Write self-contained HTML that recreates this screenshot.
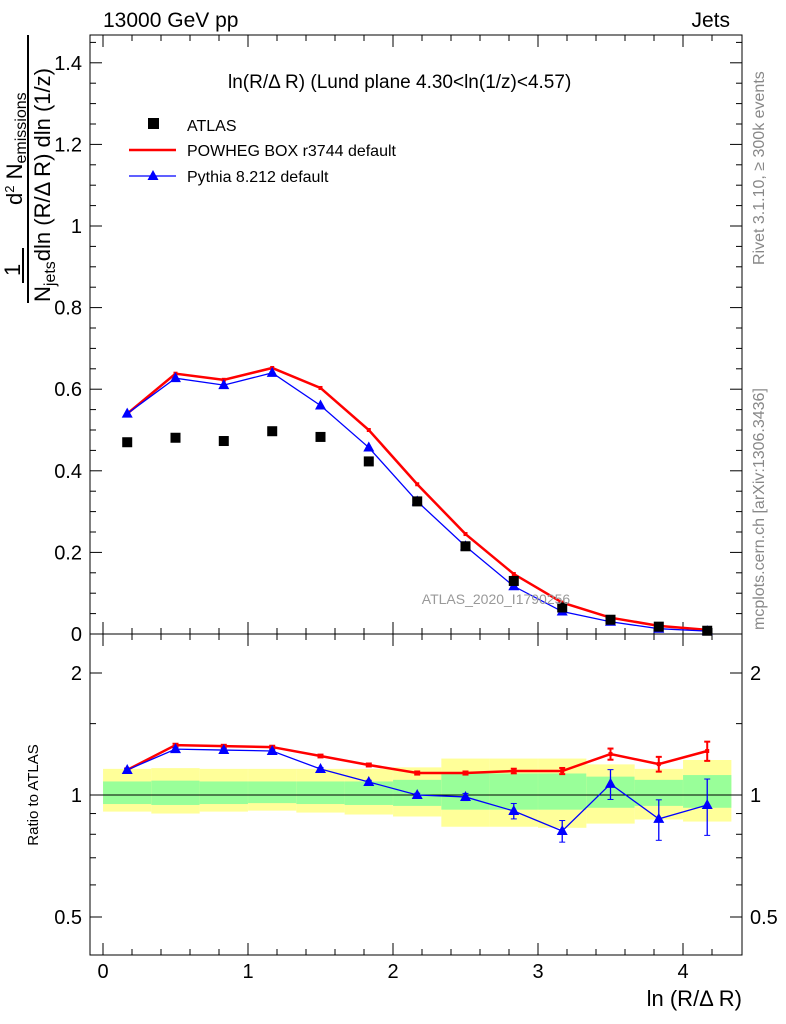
<!DOCTYPE html>
<html><head><meta charset="utf-8"><style>
body{margin:0;background:#fff}
svg{display:block;font-family:"Liberation Sans",Arial,sans-serif}
</style></head><body>
<svg width="786" height="1024" viewBox="0 0 786 1024">
<g id="g"></g>
</svg>
<script>
const binCenters=[0.167,0.5,0.833,1.167,1.5,1.833,2.167,2.5,2.833,3.167,3.5,3.833,4.167];
const atlasVals=[0.47,0.481,0.473,0.497,0.483,0.423,0.325,0.215,0.13,0.065,0.035,0.018,0.008];
const powhegVals=[0.54,0.638,0.623,0.652,0.603,0.5,0.367,0.245,0.147,0.077,0.04,0.02,0.01];
const pythiaVals=[0.54,0.627,0.61,0.64,0.56,0.457,0.325,0.215,0.117,0.055,0.03,0.013,0.007];
const powhegRatio=[1.153,1.328,1.32,1.313,1.248,1.186,1.133,1.133,1.146,1.146,1.262,1.192,1.284];
const powhegRatioErr=[0.01,0.01,0.01,0.01,0.01,0.01,0.01,0.01,0.015,0.02,0.04,0.05,0.07];
const pythiaRatio=[1.153,1.298,1.291,1.284,1.159,1.077,1.0,0.989,0.913,0.815,1.065,0.873,0.945];
const pythiaRatioErr=[0.01,0.01,0.01,0.01,0.01,0.01,0.01,0.02,0.04,0.05,0.09,0.1,0.15];
const yellowLo=[0.91,0.9,0.91,0.915,0.905,0.895,0.885,0.835,0.835,0.83,0.85,0.87,0.86];
const yellowHi=[1.16,1.165,1.16,1.16,1.16,1.16,1.17,1.23,1.23,1.23,1.19,1.16,1.22];
const greenLo=[0.95,0.945,0.95,0.955,0.95,0.945,0.94,0.92,0.92,0.92,0.93,0.94,0.93];
const greenHi=[1.08,1.085,1.08,1.08,1.08,1.08,1.09,1.13,1.13,1.13,1.11,1.09,1.12];
const xTicks=[0,1,2,3,4];
const yTicks=[0,0.2,0.4,0.6,0.8,1,1.2,1.4];
const ratioTicks=[0.5,1,2];

const NS="http://www.w3.org/2000/svg";
const g=document.getElementById('g');
function el(t,a,txt){const e=document.createElementNS(NS,t);for(const k in a)e.setAttribute(k,a[k]);if(txt!==undefined)e.textContent=txt;g.appendChild(e);return e;}
const X0=90,X1=742,T=35,MB=634,RB=955;
const xs=v=>103+v*145;
const ys=v=>634-v*408;
const yr=v=>795-Math.log2(v)*122;
const bw=1/3;

for(let i=0;i<binCenters.length;i++){
  const a=xs(binCenters[i]-bw/2),b=xs(binCenters[i]+bw/2);
  let e=el('rect',{x:a,y:yr(yellowHi[i]),width:b-a,height:yr(yellowLo[i])-yr(yellowHi[i]),fill:'#ffff99'});
  
  e=el('rect',{x:a,y:yr(greenHi[i]),width:b-a,height:yr(greenLo[i])-yr(greenHi[i]),fill:'#99ff99'});
  
}
el('line',{x1:X0,x2:X1,y1:yr(1),y2:yr(1),stroke:'#000','stroke-width':1});

let f=el('rect',{x:X0,y:T,width:X1-X0,height:MB-T,fill:'none',stroke:'#000'});

f=el('rect',{x:X0,y:MB,width:X1-X0,height:RB-MB,fill:'none',stroke:'#000'});


for(let v=0;v<=4.4;v+=0.2){const x=xs(v);const major=Math.abs(v-Math.round(v))<1e-6;const L=major?12:6;
  el('line',{x1:x,x2:x,y1:MB,y2:MB-L,stroke:'#000'});el('line',{x1:x,x2:x,y1:T,y2:T+L,stroke:'#000'});
  el('line',{x1:x,x2:x,y1:RB,y2:RB-L,stroke:'#000'});el('line',{x1:x,x2:x,y1:MB,y2:MB+L,stroke:'#000'});}
xTicks.forEach(v=>{const t=el('text',{x:xs(v),y:978,'font-size':20,'text-anchor':'middle'},String(v));
  });
for(let v=0;v<=1.46;v+=0.05){const y=ys(v);const major=Math.abs(v*5-Math.round(v*5))<1e-6;const L=major?12:6;
  el('line',{x1:X0,x2:X0+L,y1:y,y2:y,stroke:'#000'});el('line',{x1:X1,x2:X1-L,y1:y,y2:y,stroke:'#000'});}
yTicks.forEach(v=>{const t=el('text',{x:82,y:ys(v)+7,'font-size':20,'text-anchor':'end'},String(v));
  });
[0.5,0.6,0.7,0.8,0.9,1,1.5,2].forEach(v=>{const y=yr(v);const L=[0.5,1,2].includes(v)?12:6;
  el('line',{x1:X0,x2:X0+L,y1:y,y2:y,stroke:'#000'});el('line',{x1:X1,x2:X1-L,y1:y,y2:y,stroke:'#000'});});
ratioTicks.forEach(v=>{let t=el('text',{x:82,y:yr(v)+7,'font-size':20,'text-anchor':'end'},String(v));
  
  t=el('text',{x:750,y:yr(v)+7,'font-size':20},String(v));
  });

function line(vals,sx,sy,col,w,name){const p=vals.map((v,i)=>sx(binCenters[i])+','+sy(v)).join(' ');
  const e=el('polyline',{points:p,fill:'none',stroke:col,'stroke-width':w});}
line(powhegVals,xs,ys,'#f00',2.5,'powheg-line');
powhegVals.forEach((v,i)=>{const e=el('rect',{x:xs(binCenters[i])-2,y:ys(v)-2,width:4,height:4,fill:'#f00'});});
line(pythiaVals,xs,ys,'#00f',1.3,'pythia-line');
function tri(x,y,name){const e=el('polygon',{points:`${x},${y-6} ${x-5.5},${y+4} ${x+5.5},${y+4}`,fill:'#00f'});}
pythiaVals.forEach((v,i)=>tri(xs(binCenters[i]),ys(v),'pythia-point'));
atlasVals.forEach((v,i)=>{const e=el('rect',{x:xs(binCenters[i])-5,y:ys(v)-5,width:10,height:10,fill:'#000'});});

line(powhegRatio,xs,yr,'#f00',2.5,'powheg-ratio-line');
powhegRatio.forEach((v,i)=>{const x=xs(binCenters[i]);
  let e=el('line',{x1:x,x2:x,y1:yr(v+powhegRatioErr[i]),y2:yr(v-powhegRatioErr[i]),stroke:'#f00','stroke-width':2});
  el('line',{x1:x-3,x2:x+3,y1:yr(v+powhegRatioErr[i]),y2:yr(v+powhegRatioErr[i]),stroke:'#f00','stroke-width':2});
  el('line',{x1:x-3,x2:x+3,y1:yr(v-powhegRatioErr[i]),y2:yr(v-powhegRatioErr[i]),stroke:'#f00','stroke-width':2});
  e=el('rect',{x:x-2,y:yr(v)-2,width:4,height:4,fill:'#f00'});});
line(pythiaRatio,xs,yr,'#00f',1.3,'pythia-ratio-line');
pythiaRatio.forEach((v,i)=>{const x=xs(binCenters[i]);
  let e=el('line',{x1:x,x2:x,y1:yr(v+pythiaRatioErr[i]),y2:yr(v-pythiaRatioErr[i]),stroke:'#00f','stroke-width':1.3});
  el('line',{x1:x-3,x2:x+3,y1:yr(v+pythiaRatioErr[i]),y2:yr(v+pythiaRatioErr[i]),stroke:'#00f'});
  el('line',{x1:x-3,x2:x+3,y1:yr(v-pythiaRatioErr[i]),y2:yr(v-pythiaRatioErr[i]),stroke:'#00f'});
  tri(x,yr(v),'pythia-ratio-point');});

function txt(a,s,name){const e=el('text',a,s);return e;}
txt({x:103,y:27,'font-size':21},'13000 GeV pp','header-energy');
txt({x:730,y:27,'font-size':21,'text-anchor':'end'},'Jets','header-jets');
txt({x:228,y:88,'font-size':19},'ln(R/Δ R) (Lund plane 4.30<ln(1/z)<4.57)','plot-title');
txt({x:496,y:604,'font-size':14,fill:'#999','text-anchor':'middle'},'ATLAS_2020_I1790256','analysis-label');
txt({x:742,y:1006,'font-size':22,'text-anchor':'end'},'ln (R/Δ R)','x-axis-title');
txt({x:0,y:0,'font-size':15,transform:'translate(38,795) rotate(-90)','text-anchor':'middle'},'Ratio to ATLAS','ratio-y-axis-title');
txt({x:0,y:0,'font-size':16,fill:'#888',transform:'translate(764,265) rotate(-90)'},'Rivet 3.1.10, ≥ 300k events','rivet-label');
txt({x:0,y:0,'font-size':16,fill:'#888',transform:'translate(764,630) rotate(-90)'},'mcplots.cern.ch [arXiv:1306.3436]','mcplots-label');
// y title
txt({x:0,y:0,'font-size':22,transform:'translate(20,276) rotate(-90)'},'1','y-title-one');
el('line',{x1:23,x2:23,y1:248,y2:283,stroke:'#000','stroke-width':2});
el('line',{x1:28,x2:28,y1:35,y2:303,stroke:'#000','stroke-width':2});
let t=txt({x:0,y:0,'font-size':22,transform:'translate(22,205) rotate(-90)'},'','y-title-numerator');
t.innerHTML='d<tspan font-size="13" dy="-8">2</tspan><tspan dy="8"> N</tspan><tspan font-size="16" dy="4">emissions</tspan>';
t=txt({x:0,y:0,'font-size':22,transform:'translate(50,302) rotate(-90)'},'','y-title-denominator');
t.innerHTML='N<tspan font-size="16" dy="5">jets</tspan><tspan dy="-5">dln (R/Δ R) dln (1/z)</tspan>';

el('rect',{x:148,y:118,width:11,height:11,fill:'#000'});
txt({x:187,y:131,'font-size':16},'ATLAS','legend-atlas');
let e=el('line',{x1:129,x2:176,y1:150,y2:150,stroke:'#f00','stroke-width':2.5});
txt({x:187,y:156,'font-size':16},'POWHEG BOX r3744 default','legend-powheg');
e=el('line',{x1:129,x2:176,y1:176,y2:176,stroke:'#00f','stroke-width':1.3});
tri(153,176,'legend-pythia-marker');
txt({x:187,y:182,'font-size':16},'Pythia 8.212 default','legend-pythia');
</script>
</body></html>
